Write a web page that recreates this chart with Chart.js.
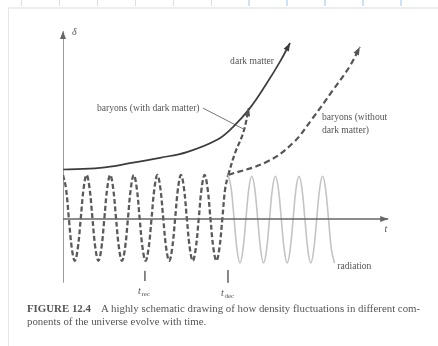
<!DOCTYPE html>
<html><head><meta charset="utf-8">
<script src="https://cdn.jsdelivr.net/npm/chart.js@4/dist/chart.umd.min.js"></script>
<style>
html,body{margin:0;padding:0;background:#fff;width:438px;height:346px;overflow:hidden;position:relative;font-family:"Liberation Serif","Times New Roman",serif;}
#ruler{position:absolute;left:0;top:0;width:438px;height:6px;background:repeating-linear-gradient(to right,transparent 0,transparent 21px,#cfe2f3 21px,#cfe2f3 22.5px,transparent 22.5px,transparent 37.9px);}
#frame{position:absolute;left:8px;top:7px;width:440px;height:350px;border-left:1px solid #e6e6e6;border-top:2px solid #eeeeee;}
#c{position:absolute;left:0;top:0;filter:blur(0.3px);}
.cap{position:absolute;left:27px;font-size:10.85px;color:#555;white-space:nowrap;filter:blur(0.3px);}
</style></head>
<body>
<div id="ruler"></div>
<div id="frame"></div>
<canvas id="c" width="438" height="346"></canvas>
<div class="cap" style="top:302px"><b>FIGURE 12.4</b>&nbsp;&nbsp;&nbsp; A highly schematic drawing of how density fluctuations in different com-</div>
<div class="cap" style="top:315px">ponents of the universe evolve with time.</div>
<script>
// Baryon oscillation before decoupling (dashed), read at 1/8-period steps
const baryonT = [
  0,0.125,0.25,0.375,0.5,0.625,0.75,0.875,
  1,1.125,1.25,1.375,1.5,1.625,1.75,1.875,
  2,2.125,2.25,2.375,2.5,2.625,2.75,2.875,
  3,3.125,3.25,3.375,3.5,3.625,3.75,3.875,
  4,4.125,4.25,4.375,4.5,4.625,4.75,4.875,
  5,5.125,5.25,5.375,5.5,5.625,5.75,5.875,
  6,6.125,6.25,6.375,6.5,6.625,6.75,6.875,
  7];
const baryonDelta = [
  1,0.7,0,-0.67,-0.95,-0.67,0,0.7,
  1,0.7,0,-0.67,-0.95,-0.67,0,0.7,
  1,0.7,0,-0.67,-0.95,-0.67,0,0.7,
  1,0.7,0,-0.67,-0.95,-0.67,0,0.7,
  1,0.7,0,-0.67,-0.95,-0.67,0,0.7,
  1,0.7,0,-0.67,-0.95,-0.67,0,0.7,
  1,0.7,0,-0.67,-0.95,-0.67,0,0.7,
  1];
// Radiation oscillation after decoupling (light solid)
const radT = [
  7,7.125,7.25,7.375,7.5,7.625,7.75,7.875,
  8,8.125,8.25,8.375,8.5,8.625,8.75,8.875,
  9,9.125,9.25,9.375,9.5,9.625,9.75,9.875,
  10,10.125,10.25,10.375,10.5,10.625,10.75,10.875,
  11,11.125,11.25,11.375,11.5];
const radDelta = [
  1,0.7,0,-0.7,-1,-0.7,0,0.69,
  0.97,0.69,0,-0.7,-1,-0.7,0,0.69,
  0.97,0.69,0,-0.7,-1,-0.7,0,0.69,
  0.97,0.69,0,-0.7,-1,-0.7,0,0.69,
  0.97,0.69,0,-0.7,-1];
// Dark matter growth
const darkT = [0,1.57,2.97,4.11,5.25,6.53,7.2,7.92,8.64,9.19,9.62];
const darkDelta = [1.125,1.16,1.28,1.39,1.52,1.8,2.09,2.52,3.09,3.57,4.0];
// Baryons with dark matter (fall into wells)
const withDmT = [7,7.29,7.63,7.88];
const withDmDelta = [1,1.5,1.95,2.52];
// Baryons without dark matter
const withoutDmT = [7,8.64,9.75,10.55,11.44,12.16,12.58];
const withoutDmDelta = [1,1.3,1.73,2.27,2.93,3.48,3.91];
// Axes extents
const axisT = [0,13.78];
const axisDelta = [-1.45,4.27];
// Epoch markers
const epochNames = ["rec","dec"];
const epochT = [3.47,6.99];

const pts = (xs, ys) => xs.map((x,i)=>({x:x,y:ys[i]}));

const labels = [
  {text:"dark matter", x:7.08, y:3.57, size:9.6},
  {text:"baryons (with dark matter)", x:1.44, y:2.52, size:9.6},
  {text:"baryons (without", x:10.97, y:2.30, size:9.6},
  {text:"dark matter)", x:10.97, y:2.02, size:9.6},
  {text:"radiation", x:11.62, y:-1.07, size:9.6}
];

const datasets = [
  {data:[{x:0,y:axisDelta[0]},{x:0,y:axisDelta[1]}], borderColor:'#666', borderWidth:1.3, tension:0, arrow:true},
  {data:[{x:axisT[0],y:0},{x:axisT[1],y:0}], borderColor:'#666', borderWidth:1.3, tension:0, arrow:true},
  {data:pts(radT,radDelta), borderColor:'#c4c4c4', borderWidth:1.6, tension:0.4},
  {data:pts(baryonT,baryonDelta), borderColor:'#5a5a5a', borderWidth:2.3, borderDash:[5,2.6], tension:0.4},
  {data:pts(darkT,darkDelta), borderColor:'#3c3c3c', borderWidth:1.7, tension:0.4, arrow:true},
  {data:pts(withDmT,withDmDelta), borderColor:'#555', borderWidth:2.2, borderDash:[5,2.6], tension:0.4, arrow:true},
  {data:pts(withoutDmT,withoutDmDelta), borderColor:'#555', borderWidth:2.2, borderDash:[6,3.5], tension:0.4, arrow:true},
  {data:[{x:5.93,y:2.52},{x:7.63,y:2.05}], borderColor:'#777', borderWidth:1, tension:0},
  {data:[{x:epochT[0],y:-1.18},{x:epochT[0],y:-1.41}], borderColor:'#777', borderWidth:1, tension:0},
  {data:[{x:epochT[1],y:-1.16},{x:epochT[1],y:-1.45}], borderColor:'#777', borderWidth:1, tension:0}
];

const decor = {
  id:'decor',
  afterDatasetsDraw(chart){
    const ctx = chart.ctx, xs = chart.scales.x, ys = chart.scales.y;
    ctx.save();
    chart.data.datasets.forEach((ds,i)=>{
      if(!ds.arrow) return;
      const meta = chart.getDatasetMeta(i);
      const n = meta.data.length;
      const p = meta.data[n-1];
      let qx = meta.data[n-2].x, qy = meta.data[n-2].y;
      if (p.cp1x !== undefined && (Math.abs(p.cp1x-p.x)+Math.abs(p.cp1y-p.y))>0.5) { qx = p.cp1x; qy = p.cp1y; }
      const a = Math.atan2(p.y-qy, p.x-qx);
      const L = 8, W = 3;
      ctx.fillStyle = ds.borderColor;
      ctx.beginPath();
      ctx.moveTo(p.x, p.y);
      ctx.lineTo(p.x - L*Math.cos(a) + W*Math.sin(a), p.y - L*Math.sin(a) - W*Math.cos(a));
      ctx.lineTo(p.x - L*Math.cos(a) - W*Math.sin(a), p.y - L*Math.sin(a) + W*Math.cos(a));
      ctx.closePath();
      ctx.fill();
    });
    ctx.fillStyle = '#555';
    ctx.textBaseline = 'middle';
    ctx.textAlign = 'left';
    labels.forEach(l=>{
      ctx.font = l.size + 'px "Liberation Serif"';
      ctx.fillText(l.text, xs.getPixelForValue(l.x), ys.getPixelForValue(l.y));
    });
    // axis symbols
    ctx.font = 'italic 10px "Liberation Serif"';
    ctx.fillText('δ', xs.getPixelForValue(0.38), ys.getPixelForValue(4.25));
    ctx.fillText('t', xs.getPixelForValue(13.62), ys.getPixelForValue(-0.23));
    // epoch labels
    epochNames.forEach((nm,k)=>{
      const px = xs.getPixelForValue(epochT[k]) - 7;
      const py = ys.getPixelForValue(-1.64) + (k ? 2 : 0);
      ctx.font = 'italic 10px "Liberation Serif"';
      ctx.fillText('t', px, py);
      ctx.font = '7px "Liberation Serif"';
      ctx.fillText(nm, px + 3.5, py + 3);
    });
    ctx.restore();
  }
};

new Chart(document.getElementById('c'), {
  type:'scatter',
  data:{datasets: datasets.map(d=>Object.assign({showLine:true, pointRadius:0, pointHoverRadius:0, fill:false}, d))},
  options:{
    responsive:false, animation:false, events:[],
    layout:{padding:{left:63, right:44.6, top:21, bottom:61}},
    plugins:{legend:{display:false}, tooltip:{enabled:false}},
    scales:{
      x:{type:'linear', min:0, max:14, display:false},
      y:{type:'linear', min:-1.5, max:4.5, display:false}
    }
  },
  plugins:[decor]
});
</script>
</body></html>
